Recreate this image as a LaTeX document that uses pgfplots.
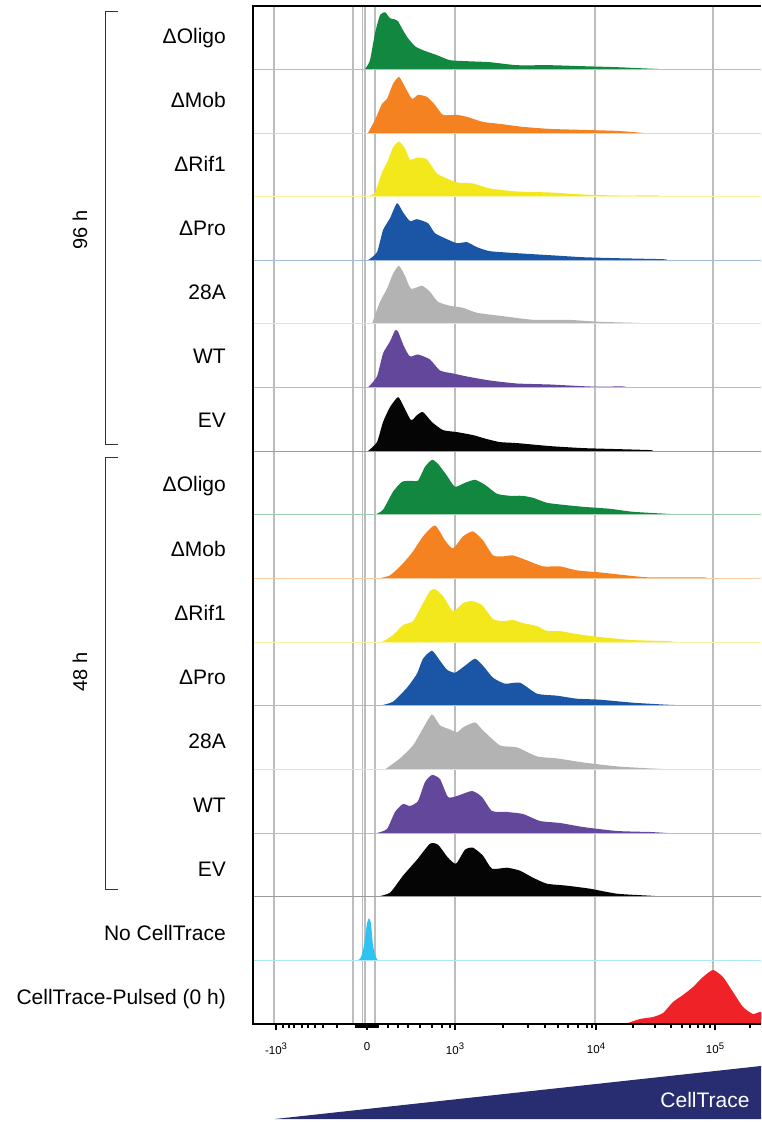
\documentclass[border=0pt]{standalone}
\usepackage{pgfplots}
\pgfplotsset{compat=1.18}
\usepackage{pgfplotstable}
\usepackage{fontspec}
\setmainfont{Liberation Sans}

\definecolor{cgreen}{HTML}{12873F}
\definecolor{corange}{HTML}{F58220}
\definecolor{cyellow}{HTML}{F2E81B}
\definecolor{cblue}{HTML}{1A56A5}
\definecolor{cgrey}{HTML}{B3B3B3}
\definecolor{cpurple}{HTML}{63479A}
\definecolor{cblack}{HTML}{050505}
\definecolor{ccyan}{HTML}{2DC3F2}
\definecolor{cred}{HTML}{EE2227}
\definecolor{cnavy}{HTML}{272D70}
\definecolor{gridc}{HTML}{BDBDBD}

% x = display position (biexponential scale), h = histogram height
% 96 h
\pgfplotstableread{
x h
365 0
370 9
375 36
380 54
385 57
390 51
394 50
398 48
403 39
408 31
415 23
423 19
437 14
450 9
467 8
490 7
517 4
550 4
583 3
617 2
640 1
663 0
}\tOligoA
\pgfplotstableread{
x h
368 0
375 13
382 29
387 34
393 49
399 56
405 46
412 34
418 38
427 36
435 28
443 18
457 18
467 16
483 11
500 9
523 6
550 4
583 3
617 2
643 0
}\tMobA
\pgfplotstableread{
x h
368 0
375 4
382 24
388 36
393 49
399 55
405 48
410 37
418 39
427 37
437 23
447 18
457 14
473 13
490 8
517 5
550 4
583 2
617 1
657 1
660 0
}\tRifA
\pgfplotstableread{
x h
368 0
377 8
383 30
390 42
397 57
403 48
410 39
417 41
428 37
435 27
447 21
457 17
467 18
477 13
490 9
517 7
550 5
583 3
617 2
663 1
667 0
}\tProA
\pgfplotstableread{
x h
372 0
380 22
387 35
393 50
399 58
405 48
411 35
422 38
430 32
438 22
450 18
463 16
477 11
500 8
533 4
567 4
600 2
633 1
657 0
}\tAAA
\pgfplotstableread{
x h
368 0
377 11
383 34
390 46
395 57
398 56
404 41
410 31
418 33
430 28
440 17
453 14
467 11
490 7
517 4
550 3
590 1
623 1
627 0
}\tWTA
\pgfplotstableread{
x h
368 0
377 9
383 29
390 44
398 54
403 46
411 31
417 36
423 39
432 29
443 21
457 19
473 16
487 12
500 9
517 8
550 5
583 3
617 2
650 1
653 0
}\tEVA
% 48 h
\pgfplotstableread{
x h
375 0
383 5
393 23
402 33
412 34
418 34
425 48
432 55
438 51
447 39
455 28
465 32
475 35
485 30
497 21
510 19
522 19
533 17
547 12
563 10
583 8
610 6
633 3
667 1
687 0
}\tOligoB
\pgfplotstableread{
x h
378 0
390 3
403 15
413 27
423 42
435 53
445 38
453 30
463 42
473 47
483 38
493 23
503 22
513 23
527 18
543 12
560 12
577 8
600 6
627 3
650 1
703 1
707 0
}\tMobB
\pgfplotstableread{
x h
382 0
393 7
403 17
413 21
422 37
430 51
435 53
443 46
453 31
463 39
472 41
482 37
493 23
503 21
513 22
523 19
537 16
547 11
560 11
577 8
600 5
633 2
667 1
677 0
}\tRifB
\pgfplotstableread{
x h
380 0
393 4
407 18
417 32
423 47
432 55
440 45
447 36
455 33
465 40
475 47
483 40
493 28
505 22
520 23
537 12
557 10
577 7
600 6
633 3
667 1
697 0
}\tProB
\pgfplotstableread{
x h
385 0
400 11
413 24
423 41
432 55
440 44
450 40
457 37
463 42
475 47
483 39
500 24
517 22
537 13
557 11
583 7
617 3
650 1
673 0
}\tAAB
\pgfplotstableread{
x h
377 0
387 4
395 21
403 29
410 27
418 32
425 51
432 58
440 54
448 36
457 37
472 42
482 36
492 22
507 21
523 19
540 12
560 10
583 6
617 2
650 1
667 0
}\tWTB
\pgfplotstableread{
x h
377 0
390 4
403 21
417 37
430 53
438 52
448 39
456 33
465 47
473 49
483 41
492 28
507 29
520 26
533 19
547 13
567 11
590 8
617 3
650 1
667 0
}\tEVB
% controls
\pgfplotstableread{
x h
358 0
361 3
364 15
367 37
369 42
371 37
373 15
376 3
378 0
}\tNone
\pgfplotstableread{
x h
625 0
640 5
653 7
663 11
673 22
683 29
693 37
703 47
713 54
723 47
733 32
743 17
753 10
761 12
761 0
}\tPulsed

% colour, baseline, table
\newcommand{\ridge}[3]{%
  \addplot[draw=none, fill=#1, smooth, tension=0.35]
    table[x=x, y expr=\thisrow{h}+#2] {#3} -- cycle;
  \draw[#1!40, line width=0.7pt] (axis cs:253,#2) -- (axis cs:761,#2);
}
\newcommand{\rowlabel}[2]{%
  \node[anchor=base east, inner sep=0pt, font=\fontsize{21}{24}\selectfont]
    at (axis cs:226,#1) {#2};
}
\newcommand{\tp}[1]{10\raisebox{0.8ex}{\fontsize{9.5}{10}\selectfont #1}}

\begin{document}
\begin{tikzpicture}
\begin{axis}[
  at={(0,0)}, anchor=south west,
  scale only axis, width=508pt, height=1018pt,
  xmin=253, xmax=761, ymin=0, ymax=1018,
  clip=false,
  axis x line*=bottom, axis y line*=left,
  axis line style={line width=2pt, black},
  ytick=\empty,
  xtick={276,367,455,596,715},
  xticklabels={-\tp{3},0,\tp{3},\tp{4},\tp{5}},
  minor xtick={283,289,294,302,308,315,323,337,356,358,360,362,364,366,368,370,372,374,376,378,388,398,408,420,432,442,450,503,528,545,558,568,578,587,592,633,655,671,682,690,698,704,710,750},
  tick align=outside,
  major tick length=6pt, minor tick length=3.5pt,
  tick style={black, line width=1.2pt},
  xticklabel style={font=\fontsize{11.5}{13}\selectfont, yshift=-9pt},
]
% grid lines
\foreach \g in {274,353,362.5,365,375,455,595,713}{
  \edef\tmp{\noexpand\draw[gridc, line width=1.6pt] (axis cs:\g,0) -- (axis cs:\g,1018);}
  \tmp
}

\ridge{cgreen}{954.8}{\tOligoA}
\ridge{corange}{891.1}{\tMobA}
\ridge{cyellow}{827.5}{\tRifA}
\ridge{cblue}{763.8}{\tProA}
\ridge{cgrey}{700.2}{\tAAA}
\ridge{cpurple}{636.5}{\tWTA}
\ridge{cblack}{572.9}{\tEVA}
\ridge{cgreen}{509.2}{\tOligoB}
\ridge{corange}{445.6}{\tMobB}
\ridge{cyellow}{381.9}{\tRifB}
\ridge{cblue}{318.3}{\tProB}
\ridge{cgrey}{254.6}{\tAAB}
\ridge{cpurple}{191.0}{\tWTB}
\ridge{cblack}{127.3}{\tEVB}
\ridge{ccyan}{63.7}{\tNone}
\addplot[draw=none, fill=cred, smooth, tension=0.35]
  table[x=x, y=h] {\tPulsed} -- cycle;

% frame (left, top, bottom)
\draw[line width=2pt] (rel axis cs:1,1) -- (rel axis cs:0,1) -- (rel axis cs:0,0) -- (rel axis cs:1,0);

\rowlabel{980.5}{ΔOligo}
\rowlabel{916.4}{ΔMob}
\rowlabel{852.4}{ΔRif1}
\rowlabel{788.3}{ΔPro}
\rowlabel{724.2}{28A}
\rowlabel{660.2}{WT}
\rowlabel{596.1}{EV}
\rowlabel{532.0}{ΔOligo}
\rowlabel{467.9}{ΔMob}
\rowlabel{403.9}{ΔRif1}
\rowlabel{339.8}{ΔPro}
\rowlabel{275.7}{28A}
\rowlabel{211.7}{WT}
\rowlabel{147.6}{EV}
\rowlabel{83.5}{No CellTrace}
\rowlabel{19.5}{CellTrace-Pulsed (0 h)}

% group brackets
\draw[black!80, line width=1pt] (axis cs:118,1012) -- (axis cs:105.5,1012) -- (axis cs:105.5,579) -- (axis cs:118,579);
\draw[black!80, line width=1pt] (axis cs:118,566) -- (axis cs:105.5,566) -- (axis cs:105.5,134) -- (axis cs:118,134);
\node[rotate=90, font=\fontsize{20}{24}\selectfont] at (axis cs:80,794) {96 h};
\node[rotate=90, font=\fontsize{20}{24}\selectfont] at (axis cs:80,352) {48 h};

% intensity wedge
\fill[cnavy] (axis cs:275,-95) -- (axis cs:761,-42) -- (axis cs:761,-95) -- cycle;
\node[text=white, font=\fontsize{21}{24}\selectfont] at (axis cs:705,-76) {CellTrace};
\end{axis}
\pgfresetboundingbox
\path (-253pt,-98pt) rectangle (508pt,1024pt);
\end{tikzpicture}
\end{document}
